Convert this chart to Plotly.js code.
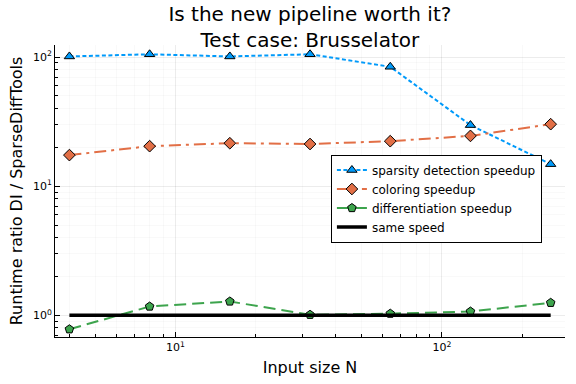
<!DOCTYPE html>
<html>
<head>
<meta charset="utf-8">
<script src="https://cdn.plot.ly/plotly-3.0.1.min.js"></script>
<style>html,body{margin:0;padding:0;background:#fff}#chart{width:576px;height:384px}</style>
</head>
<body>
<div id="chart"></div>
<script>
const inputSize = [4, 8, 16, 32, 64, 128, 256];
const sparsitySpeedup = [101, 105, 101, 105, 84, 29.7, 14.8];
const coloringSpeedup = [17.4, 20.4, 21.5, 21.2, 22.3, 24.5, 30.2];
const differentiationSpeedup = [0.78, 1.17, 1.28, 1.01, 1.03, 1.07, 1.25];
const sameSpeed = [1, 1, 1, 1, 1, 1, 1];
const yTickVals = [1, 10, 100];
const yTickText = ['10<sup>0</sup>', '10<sup>1</sup>', '10<sup>2</sup>'];
const xTickVals = [10, 100];
const xTickText = ['10<sup>1</sup>', '10<sup>2</sup>'];

const font = 'DejaVu Sans, sans-serif';
const mk = (sym, col) => ({symbol: sym, size: 9, color: col, line: {color: '#000', width: 1}});

const traces = [
  {x: inputSize, y: sparsitySpeedup, name: 'sparsity detection speedup', mode: 'lines+markers',
   line: {color: '#009AFA', width: 2, dash: '4px,2.5px'}, marker: mk('triangle-up', '#009AFA')},
  {x: inputSize, y: coloringSpeedup, name: 'coloring speedup', mode: 'lines+markers',
   line: {color: '#E26F46', width: 2, dash: '12px,5px,3px,5px'}, marker: mk('diamond', '#E26F46')},
  {x: inputSize, y: differentiationSpeedup, name: 'differentiation speedup', mode: 'lines+markers',
   line: {color: '#3DA44D', width: 2, dash: '12px,6px'}, marker: mk('pentagon', '#3DA44D')},
  {x: inputSize, y: sameSpeed, name: 'same speed', mode: 'lines',
   line: {color: '#000', width: 3.5}}
];

const axisCommon = {
  type: 'log', showline: true, linecolor: '#000', linewidth: 1, mirror: false,
  ticks: 'inside', ticklen: 5, tickcolor: '#000', zeroline: false,
  showgrid: true, gridcolor: 'rgba(0,0,0,0.1)', gridwidth: 0.5,
  tickfont: {family: font, size: 11, color: '#000'},
  minor: {tickmode: 'linear', dtick: 'D1', ticks: 'inside', ticklen: 3, tickcolor: '#000',
          showgrid: true, gridcolor: 'rgba(0,0,0,0.05)', gridwidth: 0.5}
};

const layout = {
  width: 576, height: 384,
  margin: {l: 55, r: 11, t: 45, b: 47},
  paper_bgcolor: '#fff', plot_bgcolor: '#fff',
  font: {family: font, color: '#000'},
  title: {text: 'Is the new pipeline worth it?<br>Test case: Brusselator', x: 0.538, xanchor: 'center',
          yref: 'container', y: 0.945, yanchor: 'top', automargin: false,
          font: {family: font, size: 20, color: '#000'}},
  xaxis: Object.assign({}, axisCommon, {
    range: [0.548, 2.462], tickvals: xTickVals, ticktext: xTickText,
    title: {text: 'Input size N', font: {family: font, size: 16}, standoff: 8}
  }),
  yaxis: Object.assign({}, axisCommon, {
    range: [-0.168, 2.093], tickvals: yTickVals, ticktext: yTickText,
    title: {text: 'Runtime ratio DI / SparseDiffTools', font: {family: font, size: 16}, standoff: 6}
  }),
  showlegend: true,
  legend: {x: 0.541, y: 0.625, xanchor: 'left', yanchor: 'top', bgcolor: '#fff', bordercolor: '#000', borderwidth: 1,
           font: {family: font, size: 12}, tracegroupgap: 0, itemwidth: 30}
};

Plotly.newPlot('chart', traces, layout, {displayModeBar: false, staticPlot: true});
</script>
</body>
</html>
